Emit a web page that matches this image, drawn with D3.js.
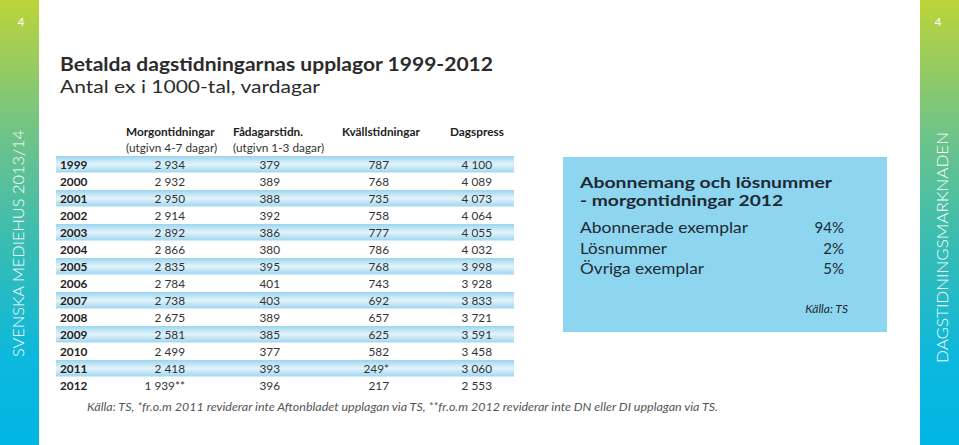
<!DOCTYPE html>
<html><head><meta charset="utf-8">
<script src="https://cdn.jsdelivr.net/npm/d3@7"></script>
<style>body{margin:0;background:#fff}svg{display:block}</style>
</head><body>
<script>
const years = ["1999","2000","2001","2002","2003","2004","2005","2006","2007","2008","2009","2010","2011","2012"];
const morgon = [2934,2932,2950,2914,2892,2866,2835,2784,2738,2675,2581,2499,2418,1939];
const morgonNote = ["","","","","","","","","","","","","","**"];
const fadagar = [379,389,388,392,386,380,395,401,403,389,385,377,393,396];
const kvall = [787,768,735,758,777,786,768,743,692,657,625,582,249,217];
const kvallNote = ["","","","","","","","","","","","","*",""];
const dagspress = [4100,4089,4073,4064,4055,4032,3998,3928,3833,3721,3591,3458,3060,2553];
const colHeads = ["Morgontidningar","Fådagarstidn.","Kvällstidningar","Dagspress"];
const colSubs = ["(utgivn 4-7 dagar)","(utgivn 1-3 dagar)","",""];
const boxLabels = ["Abonnerade exemplar","Lösnummer","Övriga exemplar"];
const boxValues = [94,2,5];

const W=959,H=445;
const FONT="Lato, 'Open Sans', sans-serif";
const svg=d3.select("body").append("svg").attr("width",W).attr("height",H);
const defs=svg.append("defs");
const sg=defs.append("linearGradient").attr("id","side").attr("x1",0).attr("y1",0).attr("x2",0).attr("y2",1);
[[0,"#bdd439"],[0.28,"#74c484"],[0.55,"#38bcb3"],[0.8,"#0db8dc"],[1,"#00b6e4"]].forEach(s=>sg.append("stop").attr("offset",s[0]).attr("stop-color",s[1]));
const rg=defs.append("linearGradient").attr("id","row").attr("x1",0).attr("y1",0).attr("x2",0).attr("y2",1);
[[0,"#9ad5ef"],[0.5,"#e3f3fb"],[1,"#9fd7f0"]].forEach(s=>rg.append("stop").attr("offset",s[0]).attr("stop-color",s[1]));

function stretch(sel,w){sel.attr("textLength",w).attr("lengthAdjust","spacingAndGlyphs");return sel;}

// sidebars
svg.append("rect").attr("x",0).attr("y",0).attr("width",39).attr("height",H).attr("fill","url(#side)");
svg.append("rect").attr("x",920).attr("y",0).attr("width",39).attr("height",H).attr("fill","url(#side)");
svg.append("text").attr("x",21).attr("y",26).attr("text-anchor","middle").attr("fill","#fff").attr("font-family",FONT).attr("font-size",12).text("4");
svg.append("text").attr("x",938).attr("y",26).attr("text-anchor","middle").attr("fill","#fff").attr("font-family",FONT).attr("font-size",12).text("4");
stretch(svg.append("text").attr("transform","translate(24,357) rotate(-90)").attr("fill","#fff").attr("font-family",FONT).attr("font-weight",300).attr("font-size",15).text("SVENSKA MEDIEHUS 2013/14"),227);
stretch(svg.append("text").attr("transform","translate(948,363) rotate(-90)").attr("fill","#fff").attr("font-family",FONT).attr("font-weight",300).attr("font-size",15).text("DAGSTIDNINGSMARKNADEN"),231);

// titles
stretch(svg.append("text").attr("x",60).attr("y",71).attr("font-family",FONT).attr("font-weight","bold").attr("font-size",19).attr("fill","#2b2b2b").text("Betalda dagstidningarnas upplagor 1999-2012"),433);
stretch(svg.append("text").attr("x",60).attr("y",93).attr("font-family",FONT).attr("font-size",18).attr("fill","#2b2b2b").text("Antal ex i 1000-tal, vardagar"),260);

// table
const y=d3.scaleBand().domain(years).range([156,156+17*years.length]).padding(0);
const loc=d3.formatLocale({decimal:",",thousands:"\u00a0",grouping:[3],currency:["","kr"]});
const fmt=loc.format(",d");
const g=svg.append("g");
g.selectAll("rect.row").data(years.filter((d,i)=>i%2===0)).join("rect")
 .attr("x",56).attr("width",458).attr("y",d=>y(d)).attr("height",y.bandwidth()-0.5).attr("fill","url(#row)");
const tcol="#333";
g.selectAll("text.yr").data(years).join("text").attr("x",60).attr("y",d=>y(d)+y.bandwidth()/2+4.3)
 .attr("font-family",FONT).attr("font-weight","bold").attr("font-size",11.8).attr("fill","#222").text(d=>d);
const cols=[
 {vals:morgon,notes:morgonNote,x:185},
 {vals:fadagar,notes:years.map(()=>""),x:280},
 {vals:kvall,notes:kvallNote,x:389},
 {vals:dagspress,notes:years.map(()=>""),x:492}
];
cols.forEach(c=>{
 g.selectAll(null).data(years).join("text").attr("x",c.x).attr("y",d=>y(d)+y.bandwidth()/2+4.3)
  .attr("text-anchor","end").attr("font-family",FONT).attr("font-size",11.8).attr("fill",tcol)
  .text((d,i)=>fmt(c.vals[i])+c.notes[i]);
});
const headX=[126,233,342,450];
colHeads.forEach((h,i)=>{
 g.append("text").attr("x",headX[i]).attr("y",136).attr("font-family",FONT).attr("font-weight","bold").attr("font-size",11.8).attr("fill","#222").text(h);
 if(colSubs[i]) g.append("text").attr("x",headX[i]).attr("y",152).attr("font-family",FONT).attr("font-size",11.8).attr("fill",tcol).text(colSubs[i]);
});
stretch(svg.append("text").attr("x",87).attr("y",411).attr("font-family",FONT).attr("font-style","italic").attr("font-size",11.5).attr("fill","#555")
 .text("Källa: TS, *fr.o.m 2011 reviderar inte Aftonbladet upplagan via TS, **fr.o.m 2012 reviderar inte DN eller DI upplagan via TS."),631);

// box
svg.append("rect").attr("x",563).attr("y",157).attr("width",324).attr("height",175).attr("fill","#8ed5f0");
stretch(svg.append("text").attr("x",580).attr("y",188).attr("font-family",FONT).attr("font-weight","bold").attr("font-size",15.5).attr("fill","#1f2a33").text("Abonnemang och lösnummer"),252);
stretch(svg.append("text").attr("x",580).attr("y",206).attr("font-family",FONT).attr("font-weight","bold").attr("font-size",15.5).attr("fill","#1f2a33").text("- morgontidningar 2012"),203);
const by=d3.scalePoint().domain(boxLabels).range([233,274]);
const bw=[168,87,124];
svg.selectAll("text.bl").data(boxLabels).join("text").attr("x",580).attr("y",d=>by(d)).attr("font-family",FONT).attr("font-size",15).attr("fill","#1f2a33")
 .attr("textLength",(d,i)=>bw[i]).attr("lengthAdjust","spacingAndGlyphs").text(d=>d);
svg.selectAll("text.bv").data(boxLabels).join("text").attr("x",844).attr("y",d=>by(d)).attr("text-anchor","end").attr("font-family",FONT).attr("font-size",15).attr("fill","#1f2a33").text((d,i)=>boxValues[i]+"%");
svg.append("text").attr("x",848).attr("y",313).attr("text-anchor","end").attr("font-family",FONT).attr("font-style","italic").attr("font-size",12).attr("fill","#1f2a33").text("Källa: TS");
</script>
</body></html>
